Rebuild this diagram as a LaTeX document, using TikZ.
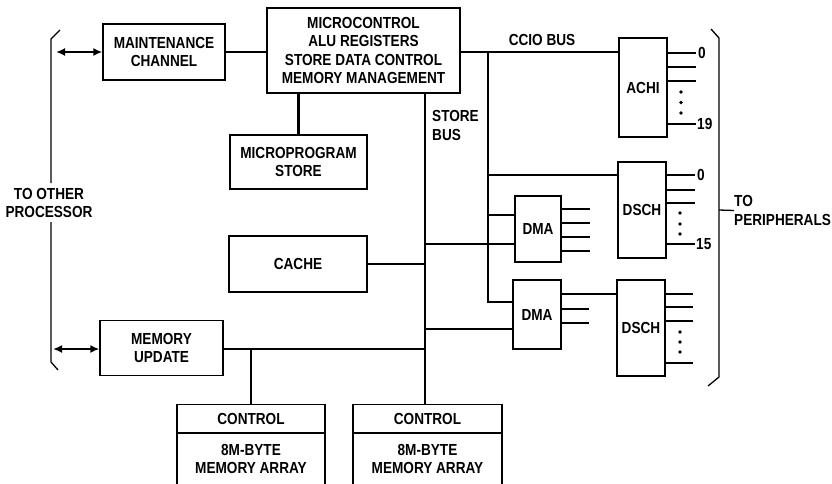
\documentclass[tikz,border=0pt]{standalone}
\usepackage{fontspec}
\setmainfont[FakeStretch=0.85]{Liberation Sans}
\usetikzlibrary{arrows.meta}
\begin{document}
\begin{tikzpicture}[x=1pt,y=-1pt,
  every node/.style={font=\fontsize{16}{18.5}\selectfont\bfseries, inner sep=0pt, align=center},
  box/.style={draw, line width=1.3pt},
  bus/.style={line width=2.2pt},
  outl/.style={line width=2.2pt},
  brk/.style={line width=1.3pt},
  dbl/.style={line width=2pt, {Latex[length=9pt,width=8pt]}-{Latex[length=9pt,width=8pt]}},
  dot/.style={circle, fill, minimum size=3.6pt, inner sep=0pt}
]
\useasboundingbox (0,0) rectangle (832,483);
\clip (0,0) rectangle (832,483);

% boxes
\node[box, minimum width=193pt, minimum height=85pt] (mc) at (363.5,50.5)
  {MICROCONTROL\\ALU REGISTERS\\STORE DATA CONTROL\\MEMORY MANAGEMENT};
\node[box, minimum width=122pt, minimum height=56pt] (maint) at (164,52) {MAINTENANCE\\CHANNEL};
\node[box, minimum width=137pt, minimum height=54pt] (mp) at (298.5,162) {MICROPROGRAM\\STORE};
\node[box, minimum width=138pt, minimum height=56pt] (cache) at (298,264) {CACHE};
\node[box, minimum width=123pt, minimum height=55pt] (mu) at (161.5,348) {MEMORY\\UPDATE};
\node[box, minimum width=48pt, minimum height=99pt] (achi) at (643,87.5) {ACHI};
\node[box, minimum width=48pt, minimum height=96pt] (dsch1) at (642,210) {DSCH};
\node[box, minimum width=46pt, minimum height=66pt] (dma1) at (538,229) {DMA};
\node[box, minimum width=48pt, minimum height=69pt] (dma2) at (537,314.5) {DMA};
\node[box, minimum width=48pt, minimum height=96pt] (dsch2) at (641,328) {DSCH};

% memory array boxes (open at bottom, run off the picture)
\node[box, minimum width=148pt, minimum height=90pt, anchor=north] (ctl1) at (251,404) {};
\node[box, minimum width=149pt, minimum height=90pt, anchor=north] (ctl2) at (427.5,404) {};
\draw[line width=1.3pt] (ctl1.west |- 0,433) -- (ctl1.east |- 0,433);
\draw[line width=1.3pt] (ctl2.west |- 0,433) -- (ctl2.east |- 0,433);
\node (c1t) at (251,419) {CONTROL};
\node (c1b) at (251,459) {8M-BYTE\\MEMORY ARRAY};
\node (c2t) at (427.5,419) {CONTROL};
\node (c2b) at (427.5,459) {8M-BYTE\\MEMORY ARRAY};

% labels
\node (ccio) at (542,40) {CCIO BUS};
\node[align=left, anchor=west] (sbl) at (432,125.5) {STORE\\BUS};
\node (toother) at (49,203) {TO OTHER\\PROCESSOR};
\node[align=left, anchor=west] (toper) at (734,210.5) {TO\\PERIPHERALS};

% coordinates
\coordinate (sbtop) at (425,93);
\coordinate (sbbot) at (425,404);
\coordinate (cctop) at (488,52);
\coordinate (ccbot) at (488,302);

% main connections
\draw[bus] (maint.east) -- (maint.east -| mc.west);
\draw[bus] (mc.east |- cctop) -- (achi.west |- cctop);
\draw[bus] (mc.south -| mp.north) -- (mp.north);
\draw[bus] (sbtop) -- (sbbot);
\draw[bus] (cctop) -- (ccbot) -- (ccbot -| dma2.west);
\draw[bus] (cctop |- 0,175) -- (dsch1.west |- 0,175);
\draw[bus] (cctop |- 0,215) -- (dma1.west |- 0,215);
\draw[bus] (sbtop |- 0,244) -- (dma1.west |- 0,244);
\draw[bus] (sbtop |- 0,329) -- (dma2.west |- 0,329);
\draw[bus] (cache.east) -- (cache.east -| sbtop);
\draw[bus] (mu.east |- 0,349) -- (sbtop |- 0,349);
\draw[bus] (ctl1.north |- 0,349) -- (ctl1.north);
\draw[bus] (dma2.east |- 0,294) -- (dsch2.west |- 0,294);

% outputs
\foreach \y in {53,67,81,124} \draw[outl] (achi.east |- 0,\y) -- ++(28,0);
\foreach \y in {92,102.5,113} \node[dot] at (681,\y) {};
\node[anchor=west] (a0) at (698,53) {0};
\node[anchor=west] (a19) at (697,124) {19};
\foreach \y in {175,190,203,244} \draw[outl] (dsch1.east |- 0,\y) -- ++(28,0);
\foreach \y in {213,224,234} \node[dot] at (680,\y) {};
\node[anchor=west] (d0) at (697,175) {0};
\node[anchor=west] (d15) at (696,244) {15};
\foreach \y in {209,223,237,251} \draw[outl] (dma1.east |- 0,\y) -- ++(28,0);
\foreach \y in {309,323} \draw[outl] (dma2.east |- 0,\y) -- ++(27,0);
\foreach \y in {294,307,321,363} \draw[outl] (dsch2.east |- 0,\y) -- ++(27,0);
\foreach \y in {332,342,352} \node[dot] at (680,\y) {};

% brackets
\draw[brk] (60,30) -- (51,39) -- (51,183);
\draw[brk] (51,222) -- (51,362) -- (58,370);
\draw[brk] (711,29) -- (719,38) -- (719,377) -- (708,386);
\draw[brk] (719,210) -- (toper.west);

% double arrows
\coordinate (la1) at (56,52);
\coordinate (la2) at (53,349);
\draw[dbl] (la1) -- (maint.west);
\draw[dbl] (la2) -- (mu.west |- la2);
\end{tikzpicture}
\end{document}
